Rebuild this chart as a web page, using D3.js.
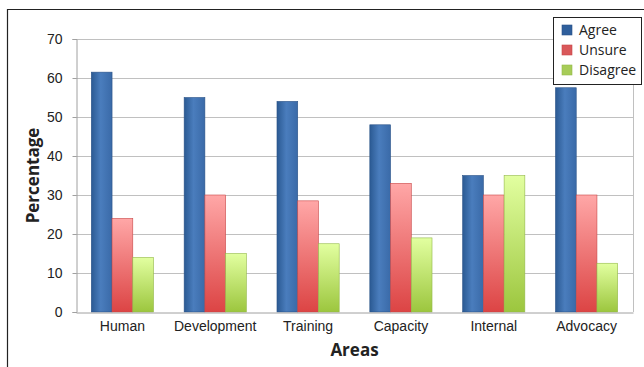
<!DOCTYPE html>
<html>
  <head>
    <meta charset="UTF-8" />
    <style>
      body { margin: 0; background: #fff; }
      svg { font-family: "Open Sans", sans-serif; }
    </style>
  </head>
  <body>
    <svg></svg>
    <script src="https://d3js.org/d3.v7.min.js"></script>
    <script>
      let width = 644,
        height = 367;

      // data
      const areas = ["Human", "Development", "Training", "Capacity", "Internal", "Advocacy"];
      const seriesNames = ["Agree", "Unsure", "Disagree"];
      const agree = [61.5, 55, 54, 48, 35, 57.5];
      const unsure = [24, 30, 28.5, 33, 30, 30];
      const disagree = [14, 15, 17.5, 19, 35, 12.5];
      const yTicks = [0, 10, 20, 30, 40, 50, 60, 70];

      const values = [agree, unsure, disagree];

      let svg = d3.select("svg").attr("width", width).attr("height", height);

      let margin = { left: 76, right: 11, top: 39, bottom: 55 };

      // outer chart border
      svg.append("path")
        .attr("d", "M7.5," + height + "V9.5H" + width)
        .attr("fill", "none")
        .attr("stroke", "#222")
        .attr("stroke-width", 1.2);

      // gradients
      let defs = svg.append("defs");
      let gradDefs = [
        { id: "gAgree", x2: "100%", y2: "0%", stops: [["0%", "#2b5a93"], ["45%", "#4a7dbd"], ["100%", "#3a6aa8"]] },
        { id: "gUnsure", x2: "0%", y2: "100%", stops: [["0%", "#ffa7a7"], ["100%", "#dc4444"]] },
        { id: "gDisagree", x2: "0%", y2: "100%", stops: [["0%", "#e2ffa0"], ["100%", "#9cc63e"]] },
      ];
      gradDefs.forEach((g) => {
        let lg = defs.append("linearGradient").attr("id", g.id)
          .attr("x1", "0%").attr("y1", "0%").attr("x2", g.x2).attr("y2", g.y2);
        g.stops.forEach((s) => lg.append("stop").attr("offset", s[0]).attr("stop-color", s[1]));
      });
      const fills = ["url(#gAgree)", "url(#gUnsure)", "url(#gDisagree)"];
      const strokes = ["#2a5287", "#c84848", "#93b84a"];
      const swatch = ["#2f5f9c", "#d9585a", "#a7cc58"];

      let x0 = d3.scaleBand()
        .domain(areas)
        .range([margin.left, width - margin.right])
        .paddingInner(0.33)
        .paddingOuter(0.165);

      let x1 = d3.scaleBand()
        .domain(seriesNames)
        .range([0, x0.bandwidth()]);

      let y = d3.scaleLinear()
        .domain([0, 70])
        .range([height - margin.bottom, margin.top]);

      // gridlines
      svg.append("g")
        .selectAll("line")
        .data(yTicks.slice(1))
        .enter()
        .append("line")
        .attr("x1", margin.left)
        .attr("x2", width - margin.right)
        .attr("y1", (d) => Math.round(y(d)) + 0.5)
        .attr("y2", (d) => Math.round(y(d)) + 0.5)
        .attr("stroke", "#c0c0c0")
        .attr("stroke-width", 1.2);

      // right plot border
      svg.append("line")
        .attr("x1", width - margin.right + 0.5)
        .attr("x2", width - margin.right + 0.5)
        .attr("y1", y(70))
        .attr("y2", y(0))
        .attr("stroke", "#c0c0c0");

      // y axis
      let yAxis = svg.append("g")
        .attr("transform", "translate(" + (margin.left + 0.5) + ",0)")
        .call(d3.axisLeft(y).tickValues(yTicks).tickSize(4).tickPadding(10));
      yAxis.select(".domain").attr("stroke", "#a0a0a0");
      yAxis.selectAll(".tick line").attr("stroke", "#a0a0a0");
      yAxis.selectAll("text").attr("font-size", 14).attr("fill", "#222");

      // bars
      svg.append("g")
        .selectAll("g")
        .data(areas)
        .enter()
        .append("g")
        .attr("transform", (d) => "translate(" + x0(d) + ",0)")
        .selectAll("rect")
        .data((d, i) => seriesNames.map((s, j) => ({ s: s, j: j, v: values[j][i] })))
        .enter()
        .append("rect")
        .attr("x", (d) => x1(d.s))
        .attr("y", (d) => y(d.v))
        .attr("width", x1.bandwidth())
        .attr("height", (d) => y(0) - y(d.v))
        .attr("fill", (d) => fills[d.j])
        .attr("stroke", (d) => strokes[d.j])
        .attr("stroke-width", 0.6);

      // x axis
      let xAxis = svg.append("g")
        .attr("transform", "translate(0," + (y(0) + 0.5) + ")")
        .call(d3.axisBottom(x0).tickSize(0).tickPadding(9));
      xAxis.select(".domain").attr("stroke", "#a0a0a0");
      xAxis.selectAll("text").attr("font-size", 14).attr("fill", "#222");

      // axis titles
      svg.append("text")
        .attr("x", (margin.left + width - margin.right) / 2)
        .attr("y", 356)
        .attr("text-anchor", "middle")
        .attr("font-size", 17)
        .attr("font-weight", "bold")
        .attr("fill", "#222")
        .text("Areas");

      svg.append("text")
        .attr("transform", "translate(39," + y(35) + ") rotate(-90)")
        .attr("text-anchor", "middle")
        .attr("font-size", 17)
        .attr("font-weight", "bold")
        .attr("fill", "#222")
        .text("Percentage");

      // legend
      let legend = svg.append("g").attr("transform", "translate(553,17)");
      legend.append("rect")
        .attr("x", 0.5).attr("y", 0.5)
        .attr("width", 88).attr("height", 67)
        .attr("fill", "#fff")
        .attr("stroke", "#222");
      let items = legend.selectAll(".item")
        .data(seriesNames)
        .enter()
        .append("g")
        .attr("transform", (d, i) => "translate(9," + (13 + i * 20) + ")");
      items.append("rect")
        .attr("x", 0).attr("y", -5)
        .attr("width", 10).attr("height", 10)
        .attr("fill", (d, i) => swatch[i])
        .attr("stroke", (d, i) => strokes[i])
        .attr("stroke-width", 0.6);
      items.append("text")
        .attr("x", 17)
        .attr("y", 5)
        .attr("font-size", 14)
        .attr("fill", "#222")
        .text((d) => d);
    </script>
  </body>
</html>
